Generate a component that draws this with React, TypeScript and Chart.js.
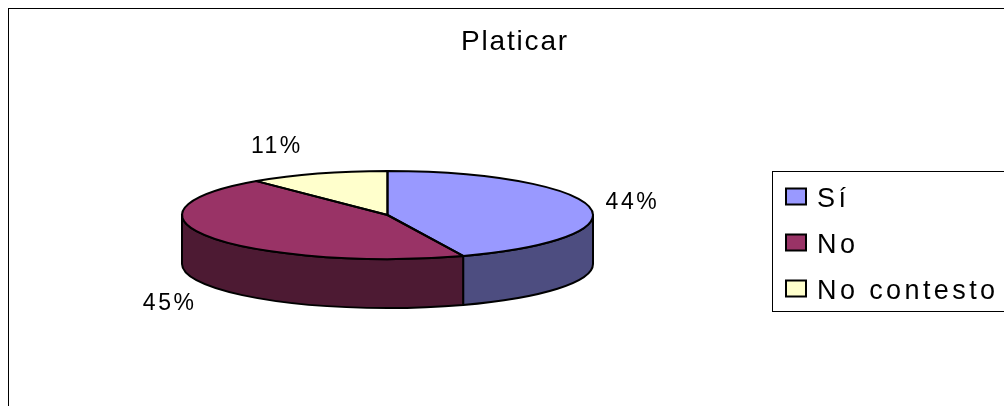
import React, { useEffect, useRef } from 'react';
import { Chart, registerables } from 'chart.js';

Chart.register(...registerables);

// ---- data ----
const chartTitle = 'Platicar';
const categories = ['Sí', 'No', 'No contesto'];
const values = [44, 45, 11];

// ---- styles ----
const topColors = ['#9999FF', '#993366', '#FFFFCC'];
const sideColors = ['#4D4D80', '#4D1A33', '#808066'];

const W = 1004;
const H = 406;
const FONT = '"Liberation Sans", Arial, sans-serif';
const TILT = 44 / 205.5; // vertical squash of the pie disc
const DEPTH = 49; // thickness of the 3D disc

const pie3d = {
  id: 'pie3d',
  beforeDraw(chart: any) {
    const ctx = chart.ctx as CanvasRenderingContext2D;
    ctx.save();
    ctx.fillStyle = '#ffffff';
    ctx.fillRect(0, 0, W, H);
    ctx.strokeStyle = '#000000';
    ctx.lineWidth = 1;
    ctx.strokeRect(8.5, 8.5, 1010, 420);
    ctx.fillStyle = '#000000';
    ctx.font = `28px ${FONT}`;
    (ctx as any).letterSpacing = '1.8px';
    ctx.textAlign = 'center';
    ctx.textBaseline = 'alphabetic';
    ctx.fillText(chartTitle, 515, 50);
    ctx.restore();
  },
  beforeDatasetsDraw(chart: any) {
    const ctx = chart.ctx as CanvasRenderingContext2D;
    const arcs = chart.getDatasetMeta(0).data;
    ctx.save();
    ctx.lineWidth = 2;
    ctx.lineJoin = 'round';
    ctx.strokeStyle = '#000000';
    arcs.forEach((arc: any, i: number) => {
      const { x, y, startAngle, endAngle, outerRadius } = arc.getProps(
        ['x', 'y', 'startAngle', 'endAngle', 'outerRadius'],
        true
      );
      const rx = outerRadius;
      const ry = outerRadius * TILT;
      const a1 = Math.max(startAngle, 0);
      const a2 = Math.min(endAngle, Math.PI);
      if (a2 <= a1) return;
      ctx.beginPath();
      ctx.ellipse(x, y, rx, ry, 0, a1, a2, false);
      ctx.lineTo(x + rx * Math.cos(a2), y + ry * Math.sin(a2) + DEPTH);
      ctx.ellipse(x, y + DEPTH, rx, ry, 0, a2, a1, true);
      ctx.closePath();
      ctx.fillStyle = sideColors[i];
      ctx.fill();
      ctx.stroke();
    });
    ctx.restore();
    // squash the disc drawn by Chart.js
    const first = arcs[0];
    const cx = first.x;
    const cy = first.y;
    ctx.save();
    ctx.translate(cx, cy);
    ctx.scale(1, TILT);
    ctx.translate(-cx, -cy);
  },
  afterDatasetsDraw(chart: any) {
    const ctx = chart.ctx as CanvasRenderingContext2D;
    ctx.restore();
    const arcs = chart.getDatasetMeta(0).data;
    const total = values.reduce((a, b) => a + b, 0);
    ctx.save();
    ctx.lineWidth = 2;
    ctx.lineJoin = 'round';
    ctx.strokeStyle = '#000000';
    arcs.forEach((arc: any) => {
      const { x, y, startAngle, endAngle, outerRadius } = arc.getProps(
        ['x', 'y', 'startAngle', 'endAngle', 'outerRadius'],
        true
      );
      ctx.beginPath();
      ctx.moveTo(x, y);
      ctx.ellipse(x, y, outerRadius, outerRadius * TILT, 0, startAngle, endAngle, false);
      ctx.closePath();
      ctx.stroke();
    });
    // percentage labels
    ctx.fillStyle = '#000000';
    ctx.font = `23px ${FONT}`;
    (ctx as any).letterSpacing = '2.5px';
    ctx.textAlign = 'center';
    ctx.textBaseline = 'alphabetic';
    arcs.forEach((arc: any, i: number) => {
      const { x, y, startAngle, endAngle, outerRadius } = arc.getProps(
        ['x', 'y', 'startAngle', 'endAngle', 'outerRadius'],
        true
      );
      const mid = (startAngle + endAngle) / 2;
      const c = Math.cos(mid);
      const s = Math.sin(mid);
      const ax = x + outerRadius * c;
      const ay = y + outerRadius * TILT * s + (s > 0 ? DEPTH : 0);
      const lx = ax + Math.sign(c) * 42;
      const ly = ay + 30 * s;
      const pct = Math.round((values[i] / total) * 100) + '%';
      ctx.fillText(pct, lx + 1, ly + 8);
    });
    ctx.restore();
  },
  afterDraw(chart: any) {
    const ctx = chart.ctx as CanvasRenderingContext2D;
    ctx.save();
    ctx.strokeStyle = '#000000';
    ctx.lineWidth = 1;
    ctx.strokeRect(772.5, 171.5, 300, 140);
    const rowTop = 196.5;
    const rowGap = 46;
    ctx.font = `27px ${FONT}`;
    (ctx as any).letterSpacing = '3.4px';
    ctx.textAlign = 'left';
    ctx.textBaseline = 'alphabetic';
    categories.forEach((cat, i) => {
      const c = rowTop + i * rowGap;
      ctx.fillStyle = topColors[i];
      ctx.fillRect(786, c - 8, 20, 16);
      ctx.lineWidth = 2;
      ctx.strokeStyle = '#000000';
      ctx.strokeRect(786, c - 8, 20, 16);
      ctx.fillStyle = '#000000';
      ctx.fillText(cat, 817, c + 10);
    });
    ctx.restore();
  },
};

export default function App() {
  const ref = useRef<HTMLCanvasElement | null>(null);
  useEffect(() => {
    if (!ref.current) return;
    const chart = new Chart(ref.current, {
      type: 'pie',
      data: {
        labels: categories,
        datasets: [
          {
            data: values,
            backgroundColor: topColors,
            borderWidth: 0,
            hoverOffset: 0,
            radius: 205.5,
            clip: false,
          } as any,
        ],
      },
      options: {
        responsive: false,
        animation: false,
        events: [],
        layout: { padding: { left: 0, right: 229, top: 24, bottom: 0 } },
        plugins: {
          legend: { display: false },
          tooltip: { enabled: false },
          title: { display: false },
        },
      },
      plugins: [pie3d],
    });
    return () => chart.destroy();
  }, []);
  return (
    <div style={{ position: 'fixed', left: 0, top: 0, width: W, height: H, overflow: 'hidden', background: '#fff' }}>
      <canvas ref={ref} width={W} height={H} style={{ display: 'block', width: W, height: H }} />
    </div>
  );
}
